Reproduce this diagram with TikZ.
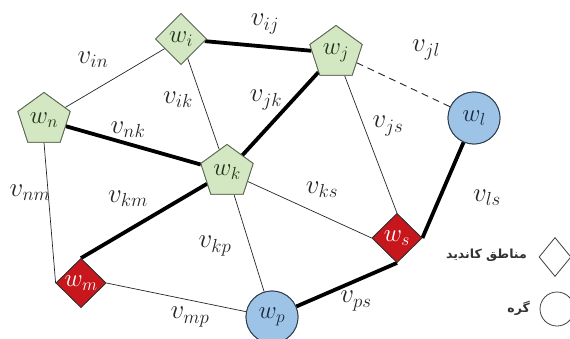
\RequirePackage{fix-cm}
\documentclass[tikz,border=0pt]{standalone}
\usepackage{fontspec}
\usetikzlibrary{shapes.geometric}
\TeXXeTstate=1
\newfontfamily\arabicfont[Script=Arabic]{DejaVu Sans}
\definecolor{gfill}{HTML}{D3E7C3}
\definecolor{gdraw}{HTML}{5A6650}
\definecolor{gtext}{HTML}{1E3318}
\definecolor{rfill}{HTML}{C8161D}
\definecolor{bfill}{HTML}{9DC3E6}
\definecolor{bdraw}{HTML}{2F3E4E}
\definecolor{btext}{HTML}{1A2A40}
\tikzset{
  nodefont/.style={font=\fontsize{25}{28}\selectfont},
  pent/.style={regular polygon, regular polygon sides=5, minimum size=55pt, inner sep=0pt, fill=gfill, draw=gdraw, line width=0.8pt, text=gtext, nodefont},
  gdia/.style={shape=diamond, aspect=1, minimum width=51pt, minimum height=51pt, inner sep=0pt, fill=gfill, draw=gdraw, line width=0.8pt, text=gtext, nodefont},
  rdia/.style={shape=diamond, aspect=1, minimum width=50pt, minimum height=49pt, inner sep=0pt, fill=rfill, draw=black!80, line width=0.8pt, text=white, nodefont},
  bcirc/.style={circle, minimum size=52pt, inner sep=0pt, fill=bfill, draw=bdraw, line width=0.9pt, text=btext, nodefont},
  thinedge/.style={line width=0.7pt, draw=black!85},
  thickedge/.style={line width=3.8pt},
  lbl/.style={font=\fontsize{27}{30}\selectfont, inner sep=0pt, text=black!85},
  legdia/.style={shape=diamond, aspect=0.8, minimum width=32pt, minimum height=39pt, inner sep=0pt, draw=black!75, line width=0.8pt},
  legcirc/.style={circle, minimum size=34pt, inner sep=0pt, draw=black!75, line width=0.8pt},
  legtxt/.style={font=\arabicfont\bfseries\fontsize{12.5}{15}\selectfont, text=black!80, inner sep=0pt}
}
\begin{document}
\begin{tikzpicture}[x=1pt,y=-1pt]
\useasboundingbox (0,0) rectangle (570,338);
\clip (0,0) rectangle (570,338);
\fill[white] (0,0) rectangle (570,338);
% nodes (placed first so that edges can refer to them)
\node[gdia] (wi) at (181,39) {};
\node[pent] (wj) at (336,53) {};
\node[pent] (wn) at (44,120) {};
\node[pent] (wk) at (227,172) {};
\node[bcirc] (wl) at (474,118) {};
\node[rdia] (ws) at (397,238) {};
\node[rdia] (wm) at (81,283) {};
\node[bcirc] (wp) at (272,317) {};
% edges
\draw[thickedge] (wi) -- (wj);
\draw[thinedge] (wi) -- (wn);
\draw[thinedge] (wi) -- (wk);
\draw[thickedge] (wj) -- (wk);
\draw[thinedge, dash pattern=on 7pt off 5pt, line width=0.9pt] (wj) -- (wl);
\draw[thinedge] (wj) -- (ws.north);
\draw[thickedge] (wn) -- (wk);
\draw[thinedge] (wn.south) -- (wm.west);
\draw[thickedge] (wk) -- (wm.north);
\draw[thinedge] (wk) -- (ws.west);
\draw[thinedge] (wk) -- (wp);
\draw[thinedge] (wm.east) -- (wp);
\draw[thickedge] (wp) -- (ws.south);
\draw[thickedge] (ws.east) -- (wl);
% nodes drawn again on top of the edges, with their labels
\node[gdia] at (wi) {$w_i$};
\node[pent] at (wj) {$w_j$};
\node[pent] at (wn) {$w_n$};
\node[pent] at (wk) {$w_k$};
\node[bcirc] at (wl) {$w_l$};
\node[rdia] at (ws) {$w_s$};
\node[rdia] at (wm) {$w_m$};
\node[bcirc] at (wp) {$w_p$};
% edge labels
\node[lbl] (lij) at (265,24) {$v_{ij}$};
\node[lbl] (lin) at (93,60) {$v_{in}$};
\node[lbl] (lik) at (178,100) {$v_{ik}$};
\node[lbl] (ljk) at (266,100) {$v_{jk}$};
\node[lbl] (ljl) at (426,50) {$v_{jl}$};
\node[lbl] (ljs) at (388,126) {$v_{js}$};
\node[lbl] (lnk) at (128,130) {$v_{nk}$};
\node[lbl] (lnm) at (30,193) {$v_{nm}$};
\node[lbl] (lkm) at (128,199) {$v_{km}$};
\node[lbl] (lks) at (322,190) {$v_{ks}$};
\node[lbl] (lkp) at (215,246) {$v_{kp}$};
\node[lbl] (lmp) at (190,317) {$v_{mp}$};
\node[lbl] (lps) at (356,301) {$v_{ps}$};
\node[lbl] (lls) at (487,198) {$v_{ls}$};
% legend
\node[legdia] (ldia) at (555,257) {};
\node[legcirc] (lcirc) at (557,309) {};
\node[legtxt, anchor=east] (ltxt1) at (527,255) {\beginR مناطق کاندید\endR};
\node[legtxt, anchor=east] (ltxt2) at (530,308) {\beginR گره\endR};
\end{tikzpicture}
\end{document}
